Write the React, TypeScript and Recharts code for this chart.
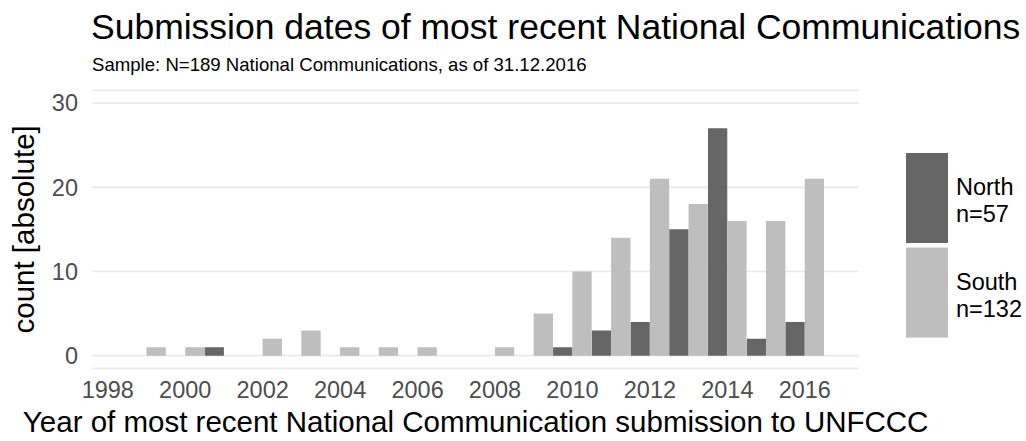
import React from 'react';
import { BarChart, Bar, XAxis, YAxis, CartesianGrid, Legend } from 'recharts';

const years = [1999, 2000, 2001, 2002, 2003, 2004, 2005, 2006, 2007, 2008, 2009, 2010, 2011, 2012, 2013, 2014, 2015, 2016];
const northCounts = [0, 0, 1, 0, 0, 0, 0, 0, 0, 0, 0, 1, 3, 4, 15, 27, 2, 4];
const southCounts = [1, 1, 0, 2, 3, 1, 1, 1, 0, 1, 5, 10, 14, 21, 18, 16, 16, 21];
const xTicks = [1998, 2000, 2002, 2004, 2006, 2008, 2010, 2012, 2014, 2016];
const yTicks = [0, 10, 20, 30];
const seriesNames = ['North', 'South'];
const seriesColors = ['#666666', '#bebebe'];
const titleText = 'Submission dates of most recent National Communications';
const subtitleText = 'Sample: N=189 National Communications, as of 31.12.2016';
const xTitle = 'Year of most recent National Communication submission to UNFCCC';
const yTitle = 'count [absolute]';

const FONT = '"Liberation Sans", Arial, Helvetica, sans-serif';

const data = years.map((year, i) => ({
  year,
  [seriesNames[0]]: northCounts[i],
  [seriesNames[1]]: southCounts[i],
}));

const totals: Record<string, number> = {
  [seriesNames[0]]: northCounts.reduce((a, b) => a + b, 0),
  [seriesNames[1]]: southCounts.reduce((a, b) => a + b, 0),
};

const LegendContent = (props: any) => {
  const payload = props.payload || [];
  return (
    <svg width={120} height={190} style={{ display: 'block', overflow: 'visible' }}>
      {payload.map((entry: any, i: number) => {
        const top = i * 94.6;
        return (
          <g key={String(entry.value)}>
            <rect x={0} y={top} width={42} height={90} fill={entry.color} />
            <text x={50} y={top + 42.3} fontSize={23.5} fontFamily={FONT} fill="#000">
              {entry.value}
            </text>
            <text x={50} y={top + 69} fontSize={23.5} fontFamily={FONT} fill="#000">
              {'n=' + totals[entry.value]}
            </text>
          </g>
        );
      })}
    </svg>
  );
};

const XTitle = (props: any) => {
  const vb = props.viewBox || { x: 0, y: 0, width: 0, height: 0 };
  return (
    <text
      x={vb.x + vb.width / 2}
      y={vb.y + vb.height - 9}
      textAnchor="middle"
      fontSize={29.5}
      fontFamily={FONT}
      fill="#000"
    >
      {xTitle}
    </text>
  );
};

const YTitle = (props: any) => {
  const vb = props.viewBox || { x: 0, y: 0, width: 0, height: 0 };
  const cx = vb.x + 34;
  const cy = vb.y + vb.height / 2;
  return (
    <text
      x={cx}
      y={cy}
      transform={`rotate(-90, ${cx}, ${cy})`}
      textAnchor="middle"
      fontSize={29.5}
      fontFamily={FONT}
      fill="#000"
    >
      {yTitle}
    </text>
  );
};

export default function App() {
  return (
    <div style={{ position: 'absolute', left: 0, top: 0, width: 1026, height: 441, background: '#fff', fontFamily: FONT }}>
      <BarChart
        width={1026}
        height={441}
        data={data}
        margin={{ top: 90.4, right: 167, bottom: 0, left: 0 }}
        barGap={0}
        barCategoryGap={0}
      >
        <CartesianGrid horizontal vertical={false} stroke="#ebebeb" strokeWidth={1.8} />
        <XAxis
          dataKey="year"
          type="number"
          domain={[1997.6, 2017.4]}
          ticks={xTicks}
          allowDataOverflow
          axisLine={false}
          tickLine={false}
          tickSize={0}
          tickMargin={13.4}
          height={72.7}
          interval={0}
          tick={{ fontSize: 23.5, fill: '#4d4d4d', fontFamily: FONT }}
          label={{ content: XTitle }}
        />
        <YAxis
          type="number"
          domain={[-1.5, 31.5]}
          ticks={yTicks}
          allowDataOverflow
          axisLine={false}
          tickLine={false}
          tickSize={0}
          tickMargin={14.3}
          width={92.3}
          interval={0}
          tick={{ fontSize: 23.5, fill: '#4d4d4d', fontFamily: FONT }}
          label={{ content: YTitle }}
        />
        <Legend
          layout="vertical"
          align="center"
          verticalAlign="middle"
          content={LegendContent}
          wrapperStyle={{ left: 906, top: 152.7, width: 120, height: 190 }}
        />
        {seriesNames.map((name, i) => (
          <Bar key={name} dataKey={name} name={name} fill={seriesColors[i]} barSize={19.3} isAnimationActive={false} />
        ))}
      </BarChart>
      <svg
        width={1026}
        height={441}
        style={{ position: 'absolute', left: 0, top: 0, pointerEvents: 'none' }}
      >
        <text x={91} y={39} fontSize={35.5} fontFamily={FONT} fill="#000">
          {titleText}
        </text>
        <text x={92} y={70.5} fontSize={18.6} fontFamily={FONT} fill="#000">
          {subtitleText}
        </text>
      </svg>
    </div>
  );
}
